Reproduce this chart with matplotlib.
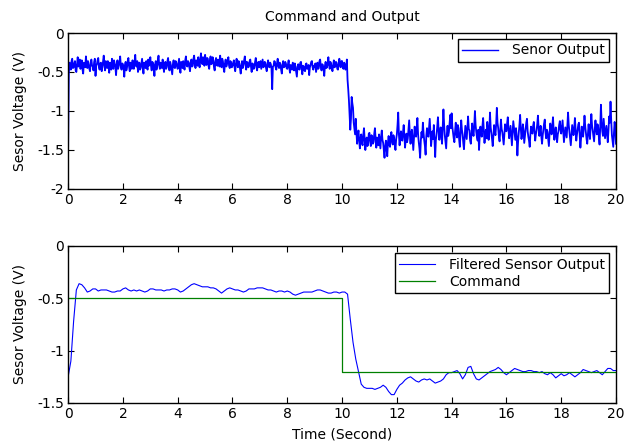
import numpy as np
import matplotlib
matplotlib.use("Agg")
import matplotlib.pyplot as plt

plt.rcParams['font.family'] = ['DejaVu Sans']
plt.rcParams['font.size'] = 10

# Raw sensor output, sampled every 0.025 s from 0 to 20 s (40 samples per row = 1 s)
dt_raw = 0.025
sensor_output = [
    -1.45, -0.52, -0.38, -0.44, -0.47, -0.36, -0.33, -0.45, -0.44, -0.39,
    -0.36, -0.48, -0.50, -0.40, -0.31, -0.43, -0.42, -0.34, -0.46, -0.41,
    -0.35, -0.47, -0.52, -0.38, -0.39, -0.44, -0.30, -0.40, -0.45, -0.36,
    -0.41, -0.46, -0.49, -0.37, -0.34, -0.42, -0.43, -0.48, -0.37, -0.33,
    # 1 s
    -0.55, -0.42, -0.40, -0.35, -0.32, -0.44, -0.47, -0.39, -0.38, -0.49,
    -0.44, -0.37, -0.29, -0.41, -0.48, -0.36, -0.41, -0.45, -0.36, -0.40,
    -0.51, -0.38, -0.43, -0.47, -0.33, -0.42, -0.46, -0.35, -0.39, -0.44,
    -0.54, -0.40, -0.35, -0.46, -0.42, -0.37, -0.30, -0.43, -0.47, -0.39,
    # 2 s
    -0.40, -0.45, -0.56, -0.41, -0.37, -0.48, -0.44, -0.36, -0.32, -0.43,
    -0.49, -0.38, -0.41, -0.46, -0.35, -0.40, -0.46, -0.37, -0.28, -0.42,
    -0.43, -0.36, -0.50, -0.41, -0.38, -0.47, -0.45, -0.39, -0.33, -0.44,
    -0.52, -0.38, -0.40, -0.45, -0.36, -0.43, -0.47, -0.34, -0.42, -0.39,
    # 3 s
    -0.31, -0.42, -0.48, -0.37, -0.39, -0.44, -0.55, -0.40, -0.36, -0.47,
    -0.43, -0.35, -0.29, -0.41, -0.46, -0.38, -0.40, -0.45, -0.34, -0.42,
    -0.50, -0.39, -0.37, -0.46, -0.44, -0.36, -0.32, -0.43, -0.48, -0.37,
    -0.41, -0.47, -0.53, -0.40, -0.35, -0.44, -0.45, -0.36, -0.38, -0.43,
    # 4 s
    -0.46, -0.39, -0.33, -0.44, -0.51, -0.37, -0.40, -0.45, -0.36, -0.42,
    -0.47, -0.35, -0.30, -0.41, -0.43, -0.36, -0.38, -0.44, -0.49, -0.37,
    -0.34, -0.43, -0.42, -0.33, -0.29, -0.40, -0.45, -0.35, -0.37, -0.42,
    -0.31, -0.39, -0.44, -0.34, -0.26, -0.38, -0.40, -0.31, -0.35, -0.42,
    # 5 s
    -0.28, -0.36, -0.41, -0.32, -0.33, -0.42, -0.46, -0.35, -0.30, -0.40,
    -0.39, -0.31, -0.35, -0.44, -0.48, -0.37, -0.32, -0.41, -0.42, -0.34,
    -0.37, -0.43, -0.29, -0.38, -0.44, -0.33, -0.36, -0.45, -0.50, -0.39,
    -0.34, -0.43, -0.40, -0.35, -0.31, -0.42, -0.45, -0.36, -0.38, -0.44,
    # 6 s
    -0.42, -0.38, -0.35, -0.44, -0.49, -0.40, -0.33, -0.41, -0.44, -0.36,
    -0.39, -0.46, -0.52, -0.42, -0.36, -0.45, -0.41, -0.35, -0.30, -0.40,
    -0.47, -0.37, -0.38, -0.44, -0.43, -0.36, -0.34, -0.43, -0.50, -0.39,
    -0.40, -0.46, -0.45, -0.37, -0.32, -0.41, -0.48, -0.38, -0.37, -0.44,
    # 7 s
    -0.41, -0.36, -0.46, -0.40, -0.34, -0.44, -0.43, -0.37, -0.38, -0.45,
    -0.49, -0.41, -0.35, -0.43, -0.44, -0.38, -0.40, -0.46, -0.72, -0.43,
    -0.42, -0.36, -0.37, -0.44, -0.47, -0.39, -0.33, -0.42, -0.45, -0.38,
    -0.40, -0.47, -0.52, -0.41, -0.36, -0.44, -0.43, -0.37, -0.39, -0.45,
    # 8 s
    -0.46, -0.40, -0.35, -0.45, -0.51, -0.41, -0.42, -0.47, -0.38, -0.44,
    -0.48, -0.39, -0.44, -0.50, -0.56, -0.43, -0.40, -0.46, -0.47, -0.38,
    -0.37, -0.45, -0.53, -0.42, -0.43, -0.48, -0.49, -0.40, -0.39, -0.46,
    -0.45, -0.41, -0.54, -0.44, -0.41, -0.37, -0.36, -0.44, -0.47, -0.42,
    # 9 s
    -0.43, -0.39, -0.50, -0.44, -0.38, -0.46, -0.45, -0.36, -0.34, -0.43,
    -0.48, -0.40, -0.41, -0.47, -0.55, -0.42, -0.37, -0.45, -0.44, -0.38,
    -0.31, -0.41, -0.46, -0.37, -0.40, -0.45, -0.49, -0.41, -0.35, -0.44,
    -0.43, -0.37, -0.38, -0.46, -0.47, -0.40, -0.33, -0.41, -0.44, -0.36,
    # 10 s
    -0.36, -0.44, -0.46, -0.38, -0.40, -0.47, -0.45, -0.34, -0.60, -0.72,
    -0.86, -1.05, -1.24, -1.10, -0.82, -0.90, -0.96, -1.15, -1.22, -1.30,
    -1.10, -1.28, -1.42, -1.30, -1.25, -1.38, -1.48, -1.35, -1.30, -1.41,
    -1.44, -1.31, -1.22, -1.37, -1.50, -1.39, -1.34, -1.45, -1.43, -1.29,
    # 11 s
    -1.28, -1.38, -1.45, -1.31, -1.33, -1.42, -1.40, -1.29, -1.22, -1.36,
    -1.47, -1.34, -1.36, -1.44, -1.30, -1.39, -1.48, -1.33, -1.25, -1.37,
    -1.41, -1.50, -1.60, -1.45, -1.38, -1.49, -1.58, -1.40, -1.32, -1.43,
    -1.46, -1.35, -1.27, -1.39, -1.43, -1.31, -1.35, -1.44, -1.50, -1.36,
    # 12 s
    -1.30, -1.18, -1.02, -1.30, -1.44, -1.33, -1.26, -1.37, -1.38, -1.27,
    -1.18, -1.32, -1.47, -1.36, -1.29, -1.40, -1.35, -1.24, -1.12, -1.31,
    -1.42, -1.28, -1.24, -1.37, -1.50, -1.34, -1.20, -1.29, -1.33, -1.22,
    -1.09, -1.30, -1.40, -1.48, -1.60, -1.38, -1.27, -1.34, -1.15, -1.28,
    # 13 s
    -1.38, -1.45, -1.56, -1.32, -1.22, -1.29, -1.33, -1.21, -1.10, -1.28,
    -1.45, -1.34, -1.26, -1.36, -1.18, -1.40, -1.59, -1.37, -1.30, -1.20,
    -1.08, -1.25, -1.37, -1.28, -1.21, -1.33, -1.42, -1.20, -0.98, -1.17,
    -1.31, -1.39, -1.48, -1.30, -1.19, -1.32, -1.27, -1.16, -1.05, -1.22,
    # 14 s
    -1.03, -1.20, -1.28, -1.35, -1.40, -1.26, -1.15, -1.29, -1.34, -1.18,
    -1.22, -1.37, -1.46, -1.30, -1.12, -1.24, -1.30, -1.41, -1.49, -1.33,
    -1.19, -1.28, -1.36, -1.21, -1.07, -1.23, -1.25, -1.38, -1.42, -1.29,
    -1.16, -1.27, -1.32, -1.19, -1.00, -1.18, -1.27, -1.34, -1.38, -1.24,
    # 15 s
    -1.50, -1.32, -1.20, -1.28, -1.33, -1.19, -1.09, -1.25, -1.41, -1.30,
    -1.24, -1.35, -1.14, -1.22, -1.37, -1.26, -1.02, -1.21, -1.28, -1.36,
    -1.45, -1.31, -1.18, -1.26, -1.31, -1.17, -0.96, -1.15, -1.22, -1.33,
    -1.39, -1.25, -1.11, -1.23, -1.27, -1.35, -1.43, -1.29, -1.17, -1.24,
    # 16 s
    -1.26, -1.16, -1.08, -1.24, -1.35, -1.27, -1.19, -1.31, -1.44, -1.29,
    -1.13, -1.21, -1.30, -1.37, -1.22, -1.33, -1.57, -1.40, -1.28, -1.18,
    -1.05, -1.22, -1.36, -1.29, -1.17, -1.25, -1.41, -1.32, -1.24, -1.15,
    -1.10, -1.26, -1.33, -1.38, -1.46, -1.30, -1.20, -1.27, -1.29, -1.19,
    # 17 s
    -1.14, -1.27, -1.38, -1.30, -1.25, -1.17, -1.06, -1.21, -1.32, -1.26,
    -1.19, -1.33, -1.42, -1.31, -1.23, -1.16, -1.11, -1.27, -1.35, -1.24,
    -1.27, -1.36, -1.45, -1.29, -1.16, -1.22, -1.30, -1.19, -1.08, -1.25,
    -1.37, -1.28, -1.21, -1.32, -1.40, -1.30, -1.26, -1.18, -1.13, -1.24,
    # 18 s
    -1.29, -1.20, -1.12, -1.27, -1.40, -1.31, -1.21, -1.28, -1.34, -1.19,
    -1.02, -1.18, -1.27, -1.36, -1.44, -1.30, -1.18, -1.25, -1.31, -1.22,
    -1.09, -1.24, -1.38, -1.30, -1.24, -1.17, -1.15, -1.32, -1.47, -1.35,
    -1.20, -1.28, -1.33, -1.21, -1.06, -1.19, -1.28, -1.36, -1.42, -1.30,
    # 19 s
    -1.17, -1.28, -1.36, -1.21, -1.04, -1.18, -1.25, -1.33, -1.39, -1.24,
    -1.12, -1.23, -1.30, -1.17, -1.21, -1.34, -1.43, -1.20, -0.92, -1.14,
    -1.26, -1.32, -1.10, -1.22, -1.35, -1.27, -1.19, -1.29, -1.40, -1.25,
    -1.07, -1.15, -0.88, -1.12, -1.31, -1.39, -1.46, -1.28, -1.14, -1.23,
    # 20 s
    -1.42,
]

# Filtered sensor output, sampled every 0.1 s from 0 to 20 s
dt_filt = 0.1
filtered_output = [
    -1.25, -1.10, -0.72, -0.42, -0.36, -0.37, -0.40, -0.44, -0.43, -0.41,
    -0.41, -0.43, -0.42, -0.42, -0.42, -0.43, -0.44, -0.44, -0.43, -0.43,
    -0.41, -0.40, -0.42, -0.43, -0.42, -0.43, -0.42, -0.43, -0.44, -0.43,
    -0.41, -0.41, -0.42, -0.42, -0.42, -0.43, -0.42, -0.42, -0.41, -0.41,
    -0.42, -0.44, -0.43, -0.41, -0.39, -0.37, -0.36, -0.37, -0.38, -0.39,
    -0.39, -0.39, -0.40, -0.40, -0.41, -0.43, -0.45, -0.43, -0.41, -0.40,
    -0.41, -0.42, -0.42, -0.43, -0.44, -0.43, -0.41, -0.41, -0.41, -0.40,
    -0.40, -0.40, -0.41, -0.42, -0.42, -0.43, -0.44, -0.43, -0.43, -0.44,
    -0.43, -0.44, -0.46, -0.47, -0.46, -0.45, -0.44, -0.44, -0.44, -0.44,
    -0.43, -0.42, -0.42, -0.43, -0.44, -0.45, -0.45, -0.44, -0.44, -0.45,
    -0.44, -0.44, -0.46, -0.70, -0.92, -1.08, -1.20, -1.32, -1.35, -1.36,
    -1.36, -1.36, -1.37, -1.36, -1.35, -1.33, -1.35, -1.39, -1.42, -1.42,
    -1.37, -1.33, -1.31, -1.28, -1.26, -1.25, -1.27, -1.29, -1.30, -1.28,
    -1.27, -1.28, -1.27, -1.29, -1.31, -1.30, -1.29, -1.27, -1.23, -1.21,
    -1.21, -1.20, -1.19, -1.22, -1.27, -1.23, -1.16, -1.15, -1.22, -1.27,
    -1.28, -1.26, -1.24, -1.22, -1.20, -1.19, -1.18, -1.16, -1.18, -1.21,
    -1.23, -1.21, -1.19, -1.17, -1.18, -1.19, -1.20, -1.20, -1.19, -1.19,
    -1.20, -1.20, -1.21, -1.20, -1.22, -1.23, -1.21, -1.23, -1.26, -1.24,
    -1.22, -1.24, -1.23, -1.21, -1.23, -1.25, -1.23, -1.21, -1.18, -1.19,
    -1.20, -1.21, -1.20, -1.19, -1.21, -1.23, -1.20, -1.17, -1.17, -1.19,
    -1.19,
]

# Step command: level holds from each time until the next
command_times = [0, 10, 20]
command_levels = [-0.5, -1.2, -1.2]

blue = (0, 0, 1)
green = (0, 0.5, 0)

t_raw = np.arange(len(sensor_output)) * dt_raw
t_filt = np.arange(len(filtered_output)) * dt_filt

fig = plt.figure(figsize=(6.25, 4.43), dpi=100)
ax1 = fig.add_axes([0.109, 0.5734, 0.8766, 0.3521])
ax2 = fig.add_axes([0.109, 0.0903, 0.8766, 0.3544])


def style(ax):
    ax.tick_params(direction='in', top=True, right=True, length=4.5, width=0.8,
                   labelsize=10, pad=3)
    for s in ax.spines.values():
        s.set_linewidth(1.0)
    ax.set_xlim(0, 20)
    ax.set_xticks(range(0, 21, 2))


ax1.plot(t_raw, sensor_output, color=blue, lw=1.3, label='Senor Output')
style(ax1)
ax1.set_ylim(-2, 0)
ax1.set_yticks([-2, -1.5, -1, -0.5, 0])
ax1.set_yticklabels(['-2', '-1.5', '-1', '-0.5', '0'])
ax1.set_ylabel('Sesor Voltage (V)')
ax1.yaxis.set_label_coords(-0.075, 0.5)
ax1.set_title('Command and Output', fontsize=10, pad=9)
leg1 = ax1.legend(loc='upper right', bbox_to_anchor=(0.988, 0.96),
                  borderaxespad=0, fancybox=False, framealpha=1,
                  edgecolor='black', handlelength=2.6, handletextpad=1.0,
                  fontsize=10, borderpad=0.3)
leg1.get_frame().set_linewidth(1.0)
for h in leg1.get_lines():
    h.set_linewidth(1.0)

ax2.plot(t_filt, filtered_output, color=blue, lw=0.8,
         label='Filtered Sensor Output')
ax2.step(command_times, command_levels, where='post', color=green, lw=0.9,
         label='Command')
style(ax2)
ax2.set_ylim(-1.5, 0)
ax2.set_yticks([-1.5, -1, -0.5, 0])
ax2.set_yticklabels(['-1.5', '-1', '-0.5', '0'])
ax2.set_ylabel('Sesor Voltage (V)')
ax2.yaxis.set_label_coords(-0.075, 0.5)
ax2.set_xlabel('Time (Second)')
ax2.xaxis.set_label_coords(0.5, -0.155)
leg2 = ax2.legend(loc='upper right', bbox_to_anchor=(0.988, 0.953),
                  borderaxespad=0, fancybox=False, framealpha=1,
                  edgecolor='black', handlelength=2.6, handletextpad=1.0,
                  fontsize=10, borderpad=0.3, labelspacing=0.25)
leg2.get_frame().set_linewidth(1.0)

fig.savefig('out.png', dpi=100)
